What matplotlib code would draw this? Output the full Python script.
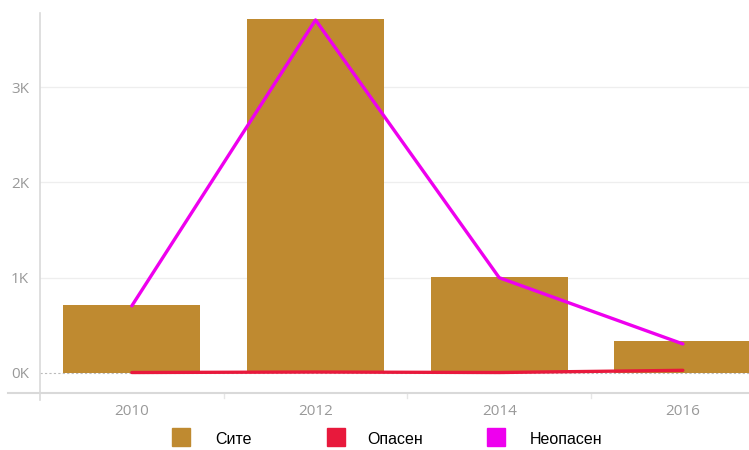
import matplotlib
matplotlib.use("Agg")
import matplotlib.pyplot as plt
from matplotlib.lines import Line2D
from matplotlib.patches import Rectangle

years = ["2010", "2012", "2014", "2016"]
total = [715, 3715, 1007, 336]        # Сите
dangerous = [5, 10, 5, 28]            # Опасен
nondangerous = [705, 3705, 1000, 305] # Неопасен
ytick_vals = [0, 1000, 2000, 3000]
ytick_labels = ["0K", "1K", "2K", "3K"]
legend_labels = ["Сите", "Опасен", "Неопасен"]

c_bar = "#BF8A30"
c_red = "#E8193C"
c_mag = "#EE00EE"

fig = plt.figure(figsize=(7.49, 4.5), dpi=100)
ax = fig.add_axes([40/749, 1 - 393/450, 1 - 40/749, (393 - 13)/450])

x = list(range(len(years)))
ax.bar(x, total, width=0.745, color=c_bar, zorder=2)
ax.plot(x, dangerous, color=c_red, lw=2.4, zorder=3, solid_capstyle="round")
ax.plot(x, nondangerous, color=c_mag, lw=2.4, zorder=4, solid_capstyle="round")

ax.set_xlim(-0.5, 3.36)
ax.set_ylim(-210, 3778)

for v in ytick_vals[1:]:
    ax.axhline(v, color="#eeeeee", lw=0.9, zorder=0)
ax.axhline(0, color="#bbbbbb", lw=0.8, ls=(0, (2, 2)), zorder=1)

ax.set_yticks(ytick_vals)
ax.set_yticklabels(ytick_labels)
ax.set_xticks(x)
ax.set_xticklabels(years)
ax.tick_params(axis="both", length=0, colors="#999999", labelsize=11)
ax.tick_params(axis="y", pad=8)
ax.tick_params(axis="x", pad=8)
for lab in ax.get_xticklabels() + ax.get_yticklabels():
    lab.set_fontfamily("Open Sans")

for s in ["top", "right", "bottom"]:
    ax.spines[s].set_visible(False)
ax.spines["left"].set_color("#d9d9d9")
ax.spines["left"].set_linewidth(1.2)

# extended axis lines
fig.add_artist(Line2D([8/749, 1], [1 - 393/450, 1 - 393/450], color="#d9d9d9", lw=1.5, transform=fig.transFigure))
fig.add_artist(Line2D([40/749, 40/749], [1 - 400/450, 1 - 393/450], color="#d9d9d9", lw=1.2, transform=fig.transFigure))
# category separators
for xs in [0.5, 1.5, 2.5]:
    ax.plot([xs, xs], [-210, -260], color="#e6e6e6", lw=1, clip_on=False, zorder=1)

# legend
items = [(172, 215, c_bar), (327, 367, c_red), (487, 530, c_mag)]
for (sx, tx, col), lab in zip(items, legend_labels):
    fig.add_artist(Rectangle((sx/749, 1 - 446/450), 18/749, 18/450, color=col, transform=fig.transFigure))
    fig.text(tx/749, 1 - 440/450, lab, fontsize=11.5, family="Liberation Sans", color="black", va="center", ha="left")

fig.savefig("out.png", dpi=100)
